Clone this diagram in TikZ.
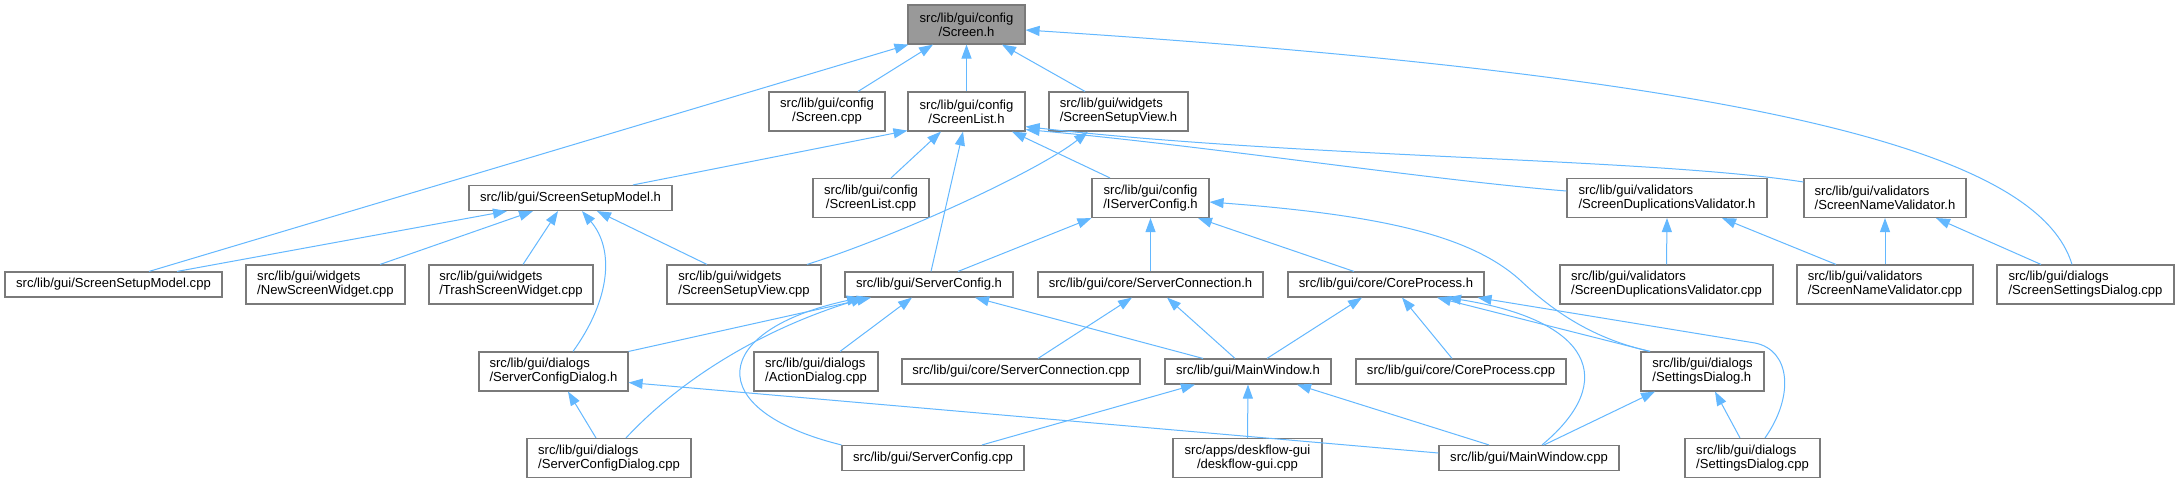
\documentclass[tikz,border=0pt]{standalone}
\usepackage{fontspec}
\setmainfont{Liberation Sans}
\usetikzlibrary{arrows.meta,calc}
\definecolor{edgec}{HTML}{63B8FF}
\definecolor{nodeb}{HTML}{7A7A7A}
\definecolor{rootf}{HTML}{999999}
\begin{document}
\begin{tikzpicture}[x=0.75pt,y=-0.75pt,
  font=\fontsize{9.8}{10.5}\selectfont,
  nb/.style={draw=nodeb,line width=0.85pt,fill=white,inner sep=0pt,text=black},
  sz/.style 2 args={minimum width=#1*0.75pt,minimum height=#2*0.75pt},
  e/.style={draw=edgec,line width=0.75pt,-{Triangle[length=10.5pt,width=7.5pt]}}]
\fill[white] (0,0) rectangle (2179,483);
\useasboundingbox (0,0) rectangle (2179,483);
% rank 0
\node[nb,sz={117}{39},fill=rootf,align=center] (sh) at (966.5,24.5) {src/lib/gui/config\\/Screen.h};
% rank 1
\node[nb,sz={116}{39},align=center] (scpp) at (827,111.5) {src/lib/gui/config\\/Screen.cpp};
\node[nb,sz={117}{39},align=center] (slh) at (966.5,111.5) {src/lib/gui/config\\/ScreenList.h};
\node[nb,sz={139}{39},align=left] (ssvh) at (1118.5,111.5) {src/lib/gui/widgets\\/ScreenSetupView.h};
% rank 2
\node[nb,sz={203}{25}] (ssmh) at (570.5,198) {src/lib/gui/ScreenSetupModel.h};
\node[nb,sz={116}{39},align=center] (slcpp) at (871,198) {src/lib/gui/config\\/ScreenList.cpp};
\node[nb,sz={117}{39},align=center] (isch) at (1150.5,198) {src/lib/gui/config\\/IServerConfig.h};
\node[nb,sz={200}{39},align=left] (sdvh) at (1667,198) {src/lib/gui/validators\\/ScreenDuplicationsValidator.h};
\node[nb,sz={162}{39},align=left] (snvh) at (1885,198) {src/lib/gui/validators\\/ScreenNameValidator.h};
% rank 3
\node[nb,sz={217}{25}] (ssmcpp) at (113.5,284.5) {src/lib/gui/ScreenSetupModel.cpp};
\node[nb,sz={159}{39},align=left] (nsw) at (325.5,284.5) {src/lib/gui/widgets\\/NewScreenWidget.cpp};
\node[nb,sz={164}{39},align=left] (tsw) at (511,284.5) {src/lib/gui/widgets\\/TrashScreenWidget.cpp};
\node[nb,sz={154}{39},align=left] (ssvcpp) at (744,284.5) {src/lib/gui/widgets\\/ScreenSetupView.cpp};
\node[nb,sz={168}{25}] (sch) at (929,284.5) {src/lib/gui/ServerConfig.h};
\node[nb,sz={225}{25}] (sconnh) at (1150.5,284.5) {src/lib/gui/core/ServerConnection.h};
\node[nb,sz={196}{25}] (cph) at (1386,284.5) {src/lib/gui/core/CoreProcess.h};
\node[nb,sz={213}{39},align=left] (sdvcpp) at (1666.5,284.5) {src/lib/gui/validators\\/ScreenDuplicationsValidator.cpp};
\node[nb,sz={176}{39},align=left] (snvcpp) at (1885,284.5) {src/lib/gui/validators\\/ScreenNameValidator.cpp};
\node[nb,sz={177}{39},align=left] (ssdcpp) at (2085.5,284.5) {src/lib/gui/dialogs\\/ScreenSettingsDialog.cpp};
% rank 4
\node[nb,sz={149}{39},align=left] (scdh) at (553.5,371.5) {src/lib/gui/dialogs\\/ServerConfigDialog.h};
\node[nb,sz={124}{39},align=left] (adcpp) at (816,371.5) {src/lib/gui/dialogs\\/ActionDialog.cpp};
\node[nb,sz={238}{25}] (sconncpp) at (1021,371.5) {src/lib/gui/core/ServerConnection.cpp};
\node[nb,sz={166}{25}] (mwh) at (1248,371.5) {src/lib/gui/MainWindow.h};
\node[nb,sz={210}{25}] (cpcpp) at (1461,371.5) {src/lib/gui/core/CoreProcess.cpp};
\node[nb,sz={123}{39},align=left] (sdh) at (1702.5,371.5) {src/lib/gui/dialogs\\/SettingsDialog.h};
% rank 5
\node[nb,sz={164}{39},align=left] (scdcpp) at (609,458) {src/lib/gui/dialogs\\/ServerConfigDialog.cpp};
\node[nb,sz={182}{25}] (sccpp) at (933,458) {src/lib/gui/ServerConfig.cpp};
\node[nb,sz={149}{39},align=center] (dgcpp) at (1247.5,458) {src/apps/deskflow-gui\\/deskflow-gui.cpp};
\node[nb,sz={180}{25}] (mwcpp) at (1529,458) {src/lib/gui/MainWindow.cpp};
\node[nb,sz={135}{39},align=left] (sdcpp) at (1752.5,458) {src/lib/gui/dialogs\\/SettingsDialog.cpp};
% edges to Screen.h
\draw[e] ($(ssmcpp.north)+(35.5,0)$) -- ($(sh.south west)+(1,0)$);
\draw[e] ($(scpp.north)+(31,0)$) -- ($(sh.south)+(-33.5,0)$);
\draw[e] (slh.north) -- (sh.south);
\draw[e] ($(ssvh.north)+(-33.5,0)$) -- ($(sh.south)+(35.5,0)$);
\draw[e] ($(ssdcpp.north)+(-13.5,0)$) .. controls (2040,160) and (1800,80) .. ($(sh.east)+(0,5.5)$);
% edges to ScreenList.h
\draw[e] ($(ssmh.north)+(62.5,0)$) -- ($(slh.south west)+(0,-1)$);
\draw[e] ($(slcpp.north)+(20,0)$) -- ($(slh.south)+(-25.5,0)$);
\draw[e] ($(sch.north)+(2,0)$) -- ($(slh.south)+(-3.5,0)$);
\draw[e] ($(isch.north)+(-40.5,0)$) -- ($(slh.south)+(45.5,0)$);
\draw[e] ($(sdvh.west)+(0,-7)$) .. controls (1430,180) and (1200,145) .. ($(slh.south east)+(0,-2)$);
\draw[e] ($(snvh.west)+(0,-16)$) .. controls (1650,158) and (1300,158) .. ($(slh.south east)+(0,-5)$);
% edges to ScreenSetupView.h
\draw[e] ($(ssvcpp.north)+(63,0)$) .. controls (900,235) and (1040,170) .. ($(ssvh.south)+(-30.5,0)$);
% edges to ScreenSetupModel.h
\draw[e] ($(ssmcpp.north)+(63.5,0)$) -- ($(ssmh.south)+(-63.5,0)$);
\draw[e] ($(nsw.north)+(54.5,0)$) -- ($(ssmh.south)+(-37.5,0)$);
\draw[e] ($(tsw.north)+(12,0)$) -- ($(ssmh.south)+(-12.5,0)$);
\draw[e] ($(scdh.north)+(19.5,0)$) .. controls (610,300) and (615,250) .. ($(ssmh.south)+(11.5,0)$);
\draw[e] ($(ssvcpp.north)+(-37,0)$) -- ($(ssmh.south)+(26.5,0)$);
% edges to IServerConfig.h
\draw[e] ($(sch.north)+(29,0)$) -- (isch.south west);
\draw[e] (sconnh.north) -- (isch.south);
\draw[e] ($(cph.north)+(-32,0)$) -- ($(isch.south)+(47.5,0)$);
\draw[e] ($(sdh.north)+(-52.5,0)$) .. controls (1600,340) and (1560,318) .. (1520,280) .. controls (1470,235) and (1380,215) .. ($(isch.east)+(0,4)$);
% edges to validators
\draw[e] (sdvcpp.north) -- (sdvh.south);
\draw[e] ($(snvcpp.north)+(-49,0)$) -- ($(sdvh.south)+(55,0)$);
\draw[e] (snvcpp.north) -- (snvh.south);
\draw[e] ($(ssdcpp.north)+(-44.5,0)$) -- ($(snvh.south)+(51,0)$);
% edges to ServerConfig.h
\draw[e] (scdh.north east) -- ($(sch.south)+(-58,0)$);
\draw[e] ($(scdcpp.north)+(17,0)$) .. controls (680,380) and (760,330) .. ($(sch.south)+(-64,0)$);
\draw[e] (sccpp.north west) .. controls (700,410) and (710,330) .. ($(sch.south)+(-68,0)$);
\draw[e] ($(adcpp.north)+(24,0)$) -- ($(sch.south)+(-17,0)$);
\draw[e] ($(mwh.north)+(-45,0)$) -- ($(sch.south)+(46,0)$);
% edges to ServerConnection.h
\draw[e] ($(sconncpp.north)+(17,0)$) -- ($(sconnh.south)+(-18.5,0)$);
\draw[e] ($(mwh.north)+(-13,0)$) -- ($(sconnh.south)+(16.5,0)$);
% edges to CoreProcess.h
\draw[e] ($(mwh.north)+(19,0)$) -- ($(cph.south)+(-24,0)$);
\draw[e] ($(cpcpp.north)+(-9,0)$) -- ($(cph.south)+(16,0)$);
\draw[e] ($(sdh.north)+(-52.5,0)$) -- ($(cph.south)+(51,0)$);
\draw[e] ($(mwcpp.north)+(13,0)$) .. controls (1620,380) and (1590,320) .. ($(cph.south)+(61,0)$);
\draw[e] ($(sdcpp.north)+(12.5,0)$) .. controls (1795,395) and (1790,350) .. (1755,343) -- ($(cph.south east)+(-7,0)$);
% edges to MainWindow.h
\draw[e] ($(sccpp.north)+(49,0)$) -- ($(mwh.south)+(-53,0)$);
\draw[e] (dgcpp.north) -- (mwh.south);
\draw[e] ($(mwcpp.north)+(-40,0)$) -- ($(mwh.south)+(49,0)$);
% edges to SettingsDialog.h
\draw[e] ($(mwcpp.north)+(15,0)$) -- ($(sdh.south)+(-47.5,0)$);
\draw[e] ($(sdcpp.north)+(-12.5,0)$) -- ($(sdh.south)+(12.5,0)$);
% edges to ServerConfigDialog.h
\draw[e] ($(scdcpp.north)+(-13,0)$) -- ($(scdh.south)+(14.5,0)$);
\draw[e] ($(mwcpp.west)+(0,-5)$) -- ($(scdh.east)+(0,11)$);
\end{tikzpicture}
\end{document}
